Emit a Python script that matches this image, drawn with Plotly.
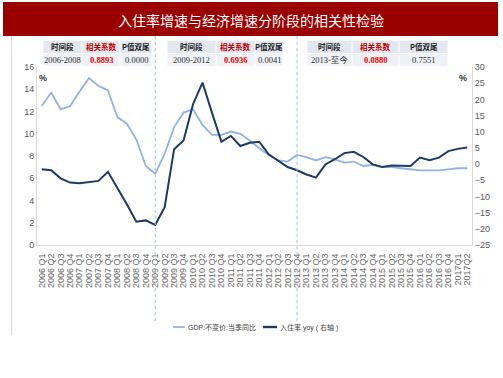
import plotly.graph_objects as go

quarters = [
    "2006 Q1", "2006 Q2", "2006 Q3", "2006 Q4",
    "2007 Q1", "2007 Q2", "2007 Q3", "2007 Q4",
    "2008 Q1", "2008 Q2", "2008 Q3", "2008 Q4",
    "2009 Q1", "2009 Q2", "2009 Q3", "2009 Q4",
    "2010 Q1", "2010 Q2", "2010 Q3", "2010 Q4",
    "2011 Q1", "2011 Q2", "2011 Q3", "2011 Q4",
    "2012 Q1", "2012 Q2", "2012 Q3", "2012 Q4",
    "2013 Q1", "2013 Q2", "2013 Q3", "2013 Q4",
    "2014 Q1", "2014 Q2", "2014 Q3", "2014 Q4",
    "2015 Q1", "2015 Q2", "2015 Q3", "2015 Q4",
    "2016 Q1", "2016 Q2", "2016 Q3", "2016 Q4",
    "2017Q1", "2017Q2",
]
gdp_yoy = [
    12.5, 13.7, 12.2, 12.5, 13.8, 15.0, 14.3, 13.9,
    11.5, 10.9, 9.5, 7.1, 6.4, 8.2, 10.6, 11.9,
    12.2, 10.8, 9.9, 9.9, 10.2, 10.0, 9.4, 8.7,
    8.1, 7.6, 7.5, 8.1, 7.9, 7.6, 7.9, 7.7,
    7.4, 7.5, 7.1, 7.2, 7.0, 7.0, 6.9, 6.8,
    6.7, 6.7, 6.7, 6.8, 6.9, 6.9,
]
occupancy_yoy = [
    -1.6, -1.9, -4.4, -5.7, -5.9, -5.5, -5.2, -2.4,
    -7.3, -12.4, -17.8, -17.4, -18.8, -13.3, 4.6, 7.3,
    18.5, 25.2, 15.9, 6.9, 8.7, 5.6, 6.6, 6.9,
    3.0, 1.0, -0.9, -1.9, -3.2, -4.2, -0.1, 1.5,
    3.4, 3.8, 2.2, -0.1, -0.9, -0.4, -0.6, -0.6,
    2.0, 1.2, 2.0, 4.0, 4.7, 5.1,
]
left_ticks = [0, 2, 4, 6, 8, 10, 12, 14, 16]
right_ticks = [-25, -20, -15, -10, -5, 0, 5, 10, 15, 20, 25, 30]

title_text = "入住率增速与经济增速分阶段的相关性检验"
table_header = ["时间段", "相关系数", "P值双尾"]
periods = ["2006-2008", "2009-2012", "2013-至今"]
corrs = ["0.8893", "0.6936", "0.0880"]
pvals = ["0.0000", "0.0041", "0.7551"]
break_idx = [12, 27]
legend_names = ["GDP:不变价:当季同比", "入住率 yoy ( 右轴 )"]

GDP_COLOR = "#8EB4E3"
OCC_COLOR = "#1B3A66"
W, H = 503, 378
L, R, T, B = 37, 472, 67, 245  # plot area in pixels


def px(x):
    return (x - L) / (R - L)


def py(y):
    return (B - y) / (B - T)


fig = go.Figure()
fig.add_trace(go.Scatter(x=quarters, y=gdp_yoy, mode="lines", name=legend_names[0],
                         line=dict(color=GDP_COLOR, width=1.8), yaxis="y"))
fig.add_trace(go.Scatter(x=quarters, y=occupancy_yoy, mode="lines", name=legend_names[1],
                         line=dict(color=OCC_COLOR, width=2), yaxis="y2"))

shapes = []
annotations = []

# title banner
shapes.append(dict(type="rect", xref="paper", yref="paper", x0=px(3), x1=px(498),
                   y0=py(36), y1=py(2), fillcolor="#9A0000", line=dict(width=0), layer="below"))
annotations.append(dict(xref="paper", yref="paper", x=px(251), y=py(19.5), text=title_text,
                        showarrow=False, xanchor="center", yanchor="middle",
                        font=dict(family="Noto Sans CJK SC", size=14, color="white")))

# left frame line
shapes.append(dict(type="line", xref="paper", yref="paper", x0=px(11.5), x1=px(11.5),
                   y0=py(36), y1=py(335), line=dict(color="#D9D9D9", width=1)))

# dashed period separators
for bi in break_idx:
    shapes.append(dict(type="line", xref="x", yref="paper", x0=bi, x1=bi,
                       y0=py(36), y1=py(321), line=dict(color="#9DC3E6", width=1, dash="dot")))

# tables
table_cols = [[43, 82, 120, 152], [167, 216, 255, 283], [307, 352, 399, 448]]
row_y = [(41, 53), (54, 66)]
row_fill = ["#E3E8F0", "#EEF1F6"]
for t, cols in enumerate(table_cols):
    for r, (ya, yb) in enumerate(row_y):
        for c in range(3):
            shapes.append(dict(type="rect", xref="paper", yref="paper",
                               x0=px(cols[c] + 0.5), x1=px(cols[c + 1] - 0.5),
                               y0=py(yb), y1=py(ya), fillcolor=row_fill[r],
                               line=dict(width=0), layer="below"))
    for c in range(3):
        xc = (cols[c] + cols[c + 1]) / 2
        annotations.append(dict(xref="paper", yref="paper", x=px(xc), y=py(47),
                                text="<b>%s</b>" % table_header[c], showarrow=False,
                                xanchor="center", yanchor="middle",
                                font=dict(family="Noto Sans CJK SC", size=7.5,
                                          color="#C00000" if c == 1 else "#222222")))
    vals = [periods[t], "<b>%s</b>" % corrs[t], pvals[t]]
    for c in range(3):
        xc = (cols[c] + cols[c + 1]) / 2
        annotations.append(dict(xref="paper", yref="paper", x=px(xc), y=py(60),
                                text=vals[c], showarrow=False,
                                xanchor="center", yanchor="middle",
                                font=dict(family="Liberation Serif, Noto Sans CJK SC", size=8.5,
                                          color="#E00000" if c == 1 else "#333333")))

# % units
for xx in (43, 463):
    annotations.append(dict(xref="paper", yref="paper", x=px(xx), y=py(78), text="<b>%</b>",
                            showarrow=False, xanchor="center", yanchor="middle",
                            font=dict(family="Liberation Sans", size=9, color="#333333")))

# manual legend
leg = [(173, 185, GDP_COLOR, 1.8), (263, 277, OCC_COLOR, 2.4)]
for (x0, x1, col, wd), name in zip(leg, legend_names):
    shapes.append(dict(type="line", xref="paper", yref="paper", x0=px(x0), x1=px(x1),
                       y0=py(327), y1=py(327), line=dict(color=col, width=wd)))
    annotations.append(dict(xref="paper", yref="paper", x=px(x1 + 0.5), y=py(327), text=name,
                            showarrow=False, xanchor="left", yanchor="middle",
                            font=dict(family="Liberation Sans, Noto Sans CJK SC", size=7,
                                      color="#404040")))

tick_font = dict(family="Liberation Sans, Arial", size=9, color="#595959")
fig.update_layout(
    template="none",
    width=W, height=H,
    margin=dict(l=L, r=W - R, t=T, b=H - B, pad=0),
    paper_bgcolor="white", plot_bgcolor="white",
    showlegend=False,
    xaxis=dict(type="category", range=[-0.5, len(quarters) - 0.5], tickangle=-90,
               tickmode="array", tickvals=quarters, ticktext=quarters,
               tickfont=dict(family="Liberation Sans, Arial", size=9, color="#666666"),
               showline=True, linecolor="#D9D9D9", linewidth=1, showgrid=False,
               ticks="outside", ticklen=4, tickcolor="rgba(0,0,0,0)",
               zeroline=False, automargin=False),
    yaxis=dict(range=[0, 16], tickvals=left_ticks, tickfont=tick_font, showline=True,
               linecolor="#D9D9D9", linewidth=1, showgrid=False, zeroline=False,
               ticks="", automargin=False),
    yaxis2=dict(range=[-25, 30], tickvals=right_ticks, tickfont=tick_font, overlaying="y",
                side="right", showline=True, linecolor="#D9D9D9", linewidth=1,
                showgrid=False, zeroline=False, ticks="", automargin=False),
    shapes=shapes,
    annotations=annotations,
)

fig.write_html("out.html", config={"displayModeBar": False},
               post_script="document.body.style.margin='0px';")
